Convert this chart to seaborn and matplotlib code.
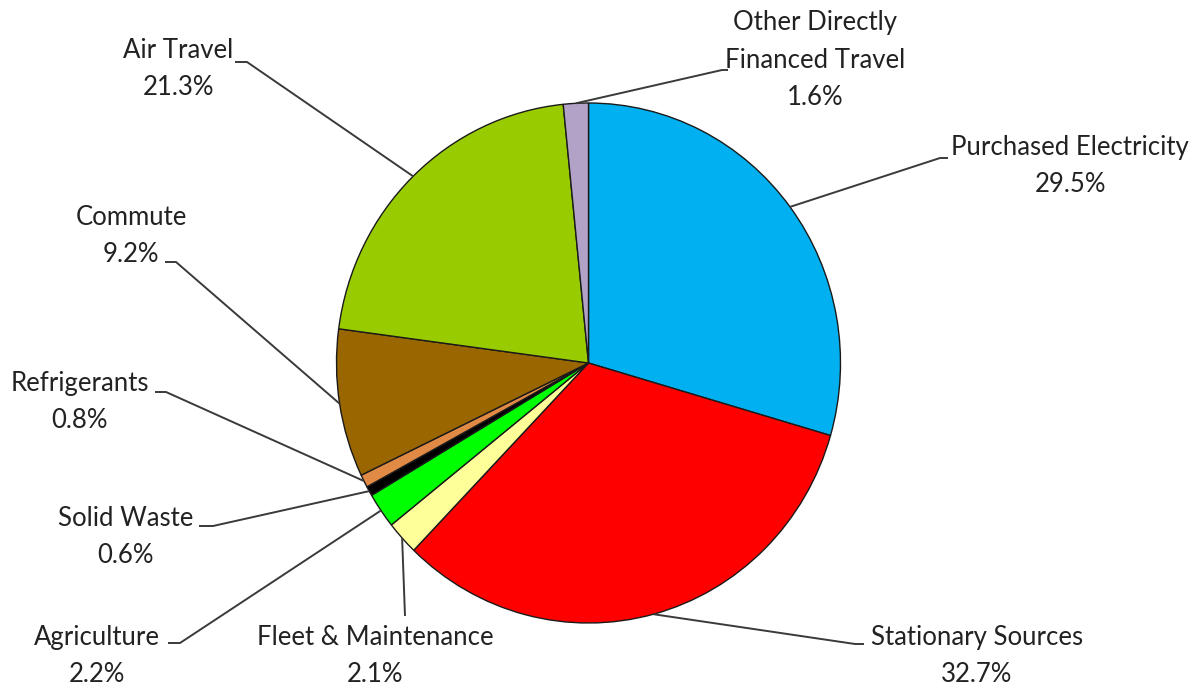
import matplotlib
matplotlib.use("Agg")
import matplotlib.pyplot as plt
import seaborn as sns
import numpy as np

# Emission sources and their share of the total (%)
categories = [
    "Purchased Electricity",
    "Stationary Sources",
    "Fleet & Maintenance",
    "Agriculture",
    "Solid Waste",
    "Refrigerants",
    "Commute",
    "Air Travel",
    "Other Directly\nFinanced Travel",
]
shares = [29.5, 32.7, 2.1, 2.2, 0.6, 0.8, 9.2, 21.3, 1.6]
slice_colors = [
    "#00B0F0", "#FF0000", "#FFFF99", "#00FF00", "#000000",
    "#E08A45", "#996600", "#99CC00", "#B3A2C7",
]

sns.set_theme(style="white")
plt.rcParams["font.family"] = ["Lato", "DejaVu Sans"]

W, H = 1198, 692
fig = plt.figure(figsize=(W / 100, H / 100), dpi=100)

# Pie centre and half-axes in pixels (top-left origin); slightly oval
cx, cy, rx, ry = 588.5, 363.0, 252.0, 260.0
pie_ax = fig.add_axes([(cx - rx) / W, (H - cy - ry) / H, 2 * rx / W, 2 * ry / H])
wedges, _ = pie_ax.pie(
    shares,
    colors=slice_colors,
    startangle=90,
    counterclock=False,
    radius=1.0,
    wedgeprops=dict(edgecolor="#1a1a1a", linewidth=1.0),
    frame=True,
)
pie_ax.set_xlim(-1, 1)
pie_ax.set_ylim(-1, 1)
pie_ax.set_aspect("auto")
pie_ax.axis("off")

# Overlay in pixel coordinates for leader lines and labels
ax = fig.add_axes([0, 0, 1, 1])
ax.set_xlim(0, W)
ax.set_ylim(H, 0)
ax.axis("off")
ax.patch.set_alpha(0)

# Label layout: text centre, elbow of the leader line, end of the short stub
layout = {
    "Purchased Electricity": ((1070, 166), (940, 158), (948, 158)),
    "Stationary Sources": ((977, 656), (855, 644), (864, 644)),
    "Fleet & Maintenance": ((375, 656), (405, 616), (405, 616)),
    "Agriculture": ((97, 656), (180, 643), (168, 643)),
    "Solid Waste": ((126, 537), (213, 526), (199, 526)),
    "Refrigerants": ((80, 402), (166, 392), (155, 392)),
    "Commute": ((131, 236), (176, 262), (165, 262)),
    "Air Travel": ((178, 69), (247, 62), (235, 62)),
    "Other Directly\nFinanced Travel": ((815, 60), (722, 70), (728, 70)),
}

line_color = "#3a3a3a"
for w, name, share in zip(wedges, categories, shares):
    mid = np.deg2rad((w.theta1 + w.theta2) / 2)
    start = (cx + rx * np.cos(mid), cy - ry * np.sin(mid))
    (tx, ty), elbow, stub = layout[name]
    ax.plot([start[0], elbow[0], stub[0]], [start[1], elbow[1], stub[1]],
            color=line_color, linewidth=1.4, solid_capstyle="butt", zorder=1)
    ax.text(tx, ty, f"{name}\n{share:.1f}%", ha="center", va="center",
            multialignment="center", fontsize=18.5, color="#222222",
            linespacing=1.62)

fig.savefig("out.png", dpi=100, facecolor="white")
